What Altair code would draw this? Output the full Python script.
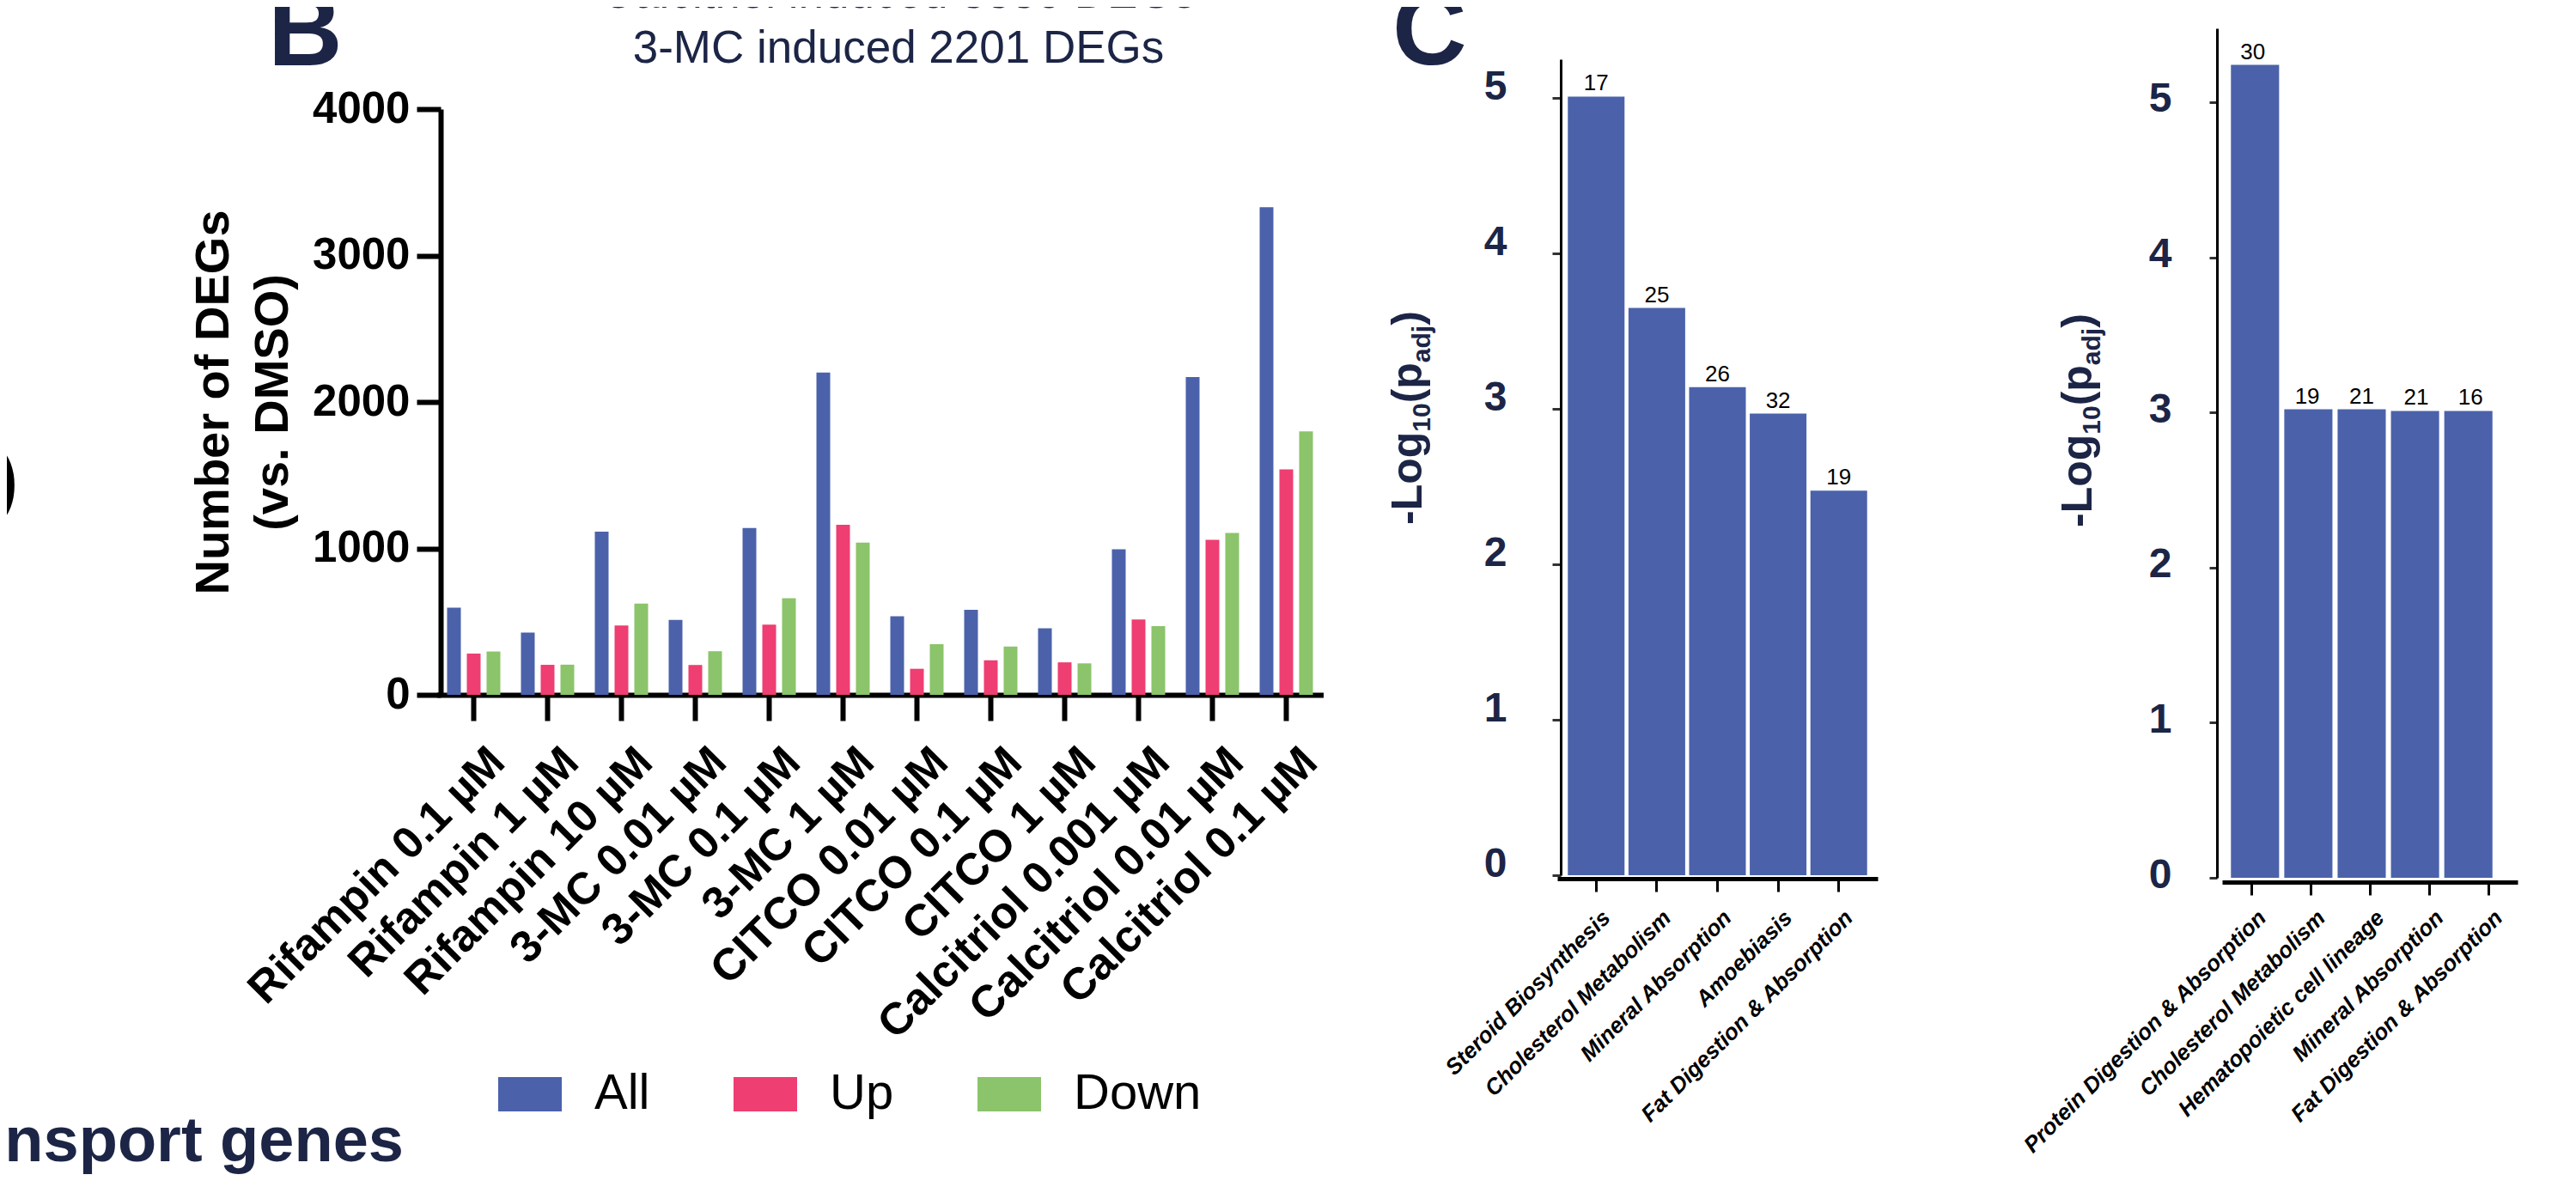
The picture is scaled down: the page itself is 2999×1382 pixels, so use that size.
import altair as alt
import pandas as pd

# ---------------- data ----------------
treatments = ["Rifampin 0.1 µM", "Rifampin 1 µM", "Rifampin 10 µM", "3-MC 0.01 µM",
              "3-MC 0.1 µM", "3-MC 1 µM", "CITCO 0.01 µM", "CITCO 0.1 µM", "CITCO 1 µM",
              "Calcitriol 0.001 µM", "Calcitriol 0.01 µM", "Calcitriol 0.1 µM"]
deg_all = [595, 425, 1115, 512, 1140, 2201, 536, 581, 455, 994, 2170, 3330]
deg_up = [282, 205, 474, 204, 480, 1162, 178, 236, 222, 514, 1058, 1540]
deg_down = [296, 206, 623, 298, 660, 1039, 346, 330, 215, 469, 1106, 1799]
series = ["All", "Up", "Down"]
series_colors = ["#4b62ab", "#ee3e72", "#8bc46a"]
b_ticks = [0, 1000, 2000, 3000, 4000]
b_ytitle = ["Number of DEGs", "(vs.  DMSO)"]
b_title = ["Calcitriol induced 3330 DEGs", "3-MC induced 2201 DEGs"]

terms_calcitriol = ["Steroid Biosynthesis", "Cholesterol Metabolism", "Mineral Absorption",
                    "Amoebiasis", "Fat Digestion & Absorption"]
logp_calcitriol = [5.01, 3.65, 3.14, 2.97, 2.475]
genes_calcitriol = [17, 25, 26, 32, 19]

terms_3mc = ["Protein Digestion & Absorption", "Cholesterol Metabolism",
             "Hematopoietic cell lineage", "Mineral Absorption", "Fat Digestion & Absorption"]
logp_3mc = [5.24, 3.02, 3.02, 3.01, 3.01]
genes_3mc = [30, 19, 21, 21, 16]
c_ticks = [0, 1, 2, 3, 4, 5]
c_titles = ["Calcitriol", "3-MC"]

# ---------------- style ----------------
W, H = 2983, 1366
NAVY = "#1c2546"
BLUE = "#4b62ab"
FONT = "Liberation Sans"

# ---------------- panel B ----------------
df_b = pd.DataFrame({
    "treatment": [t for t in treatments for _ in series],
    "series": series * len(treatments),
    "value": [v for trio in zip(deg_all, deg_up, deg_down) for v in trio],
})

bars_b = alt.Chart(df_b).mark_bar().encode(
    x=alt.X("treatment:N", sort=treatments, title=None,
            scale=alt.Scale(range=[500.5, 1532.5], paddingInner=0.279, paddingOuter=0.1395),
            axis=alt.Axis(orient="bottom", offset=-565, domainColor="black", domainWidth=6,
                          tickColor="black", tickWidth=6, tickSize=30, labelAngle=-45,
                          labelAlign="right", labelBaseline="top", labelFont=FONT,
                          labelFontSize=52, labelFontWeight="bold", labelColor="black",
                          labelPadding=22, labelOffset=10, labelLimit=0, labelOverlap=False,
                          grid=False)),
    xOffset=alt.XOffset("series:N", sort=series,
                        scale=alt.Scale(domain=series, paddingInner=0.304, paddingOuter=0)),
    y=alt.Y("value:Q",
            scale=alt.Scale(domain=[0, 4000], range=[801, 119], nice=False),
            axis=alt.Axis(orient="left", offset=-505, values=b_ticks, format="d",
                          domainColor="black", domainWidth=6, tickColor="black", tickWidth=6,
                          tickSize=28, labelFont=FONT, labelFontSize=51, labelFontWeight="bold",
                          labelColor="black", labelPadding=8, labelOverlap=False, grid=False,
                          title=b_ytitle, titleFont=FONT, titleFontSize=56,
                          titleFontWeight="bold", titleColor="black", titleAngle=270,
                          titleAlign="center", titleBaseline="alphabetic", titleX=-248,
                          titleY=460, titleLineHeight=69)),
    color=alt.Color("series:N", sort=series,
                    scale=alt.Scale(domain=series, range=series_colors),
                    legend=alt.Legend(orient="none", legendX=572, legendY=1229,
                                      direction="horizontal", title=None,
                                      symbolType="M-1,-0.54H1V0.54H-1Z", symbolSize=5476,
                                      symbolStrokeWidth=0, symbolOpacity=1,
                                      labelFont=FONT, labelFontSize=58, labelColor="black",
                                      labelOffset=38, columnPadding=97, padding=0)),
)


# ---------------- panel C helpers ----------------
def c_xaxis(offset, label_offset, label_padding):
    return alt.Axis(orient="bottom", offset=offset, domainColor="black", domainWidth=5,
                    tickColor="black", tickWidth=3, tickSize=15, labelAngle=-45,
                    labelAlign="right", labelBaseline="top", labelFont=FONT, labelFontSize=26,
                    labelFontWeight="bold", labelFontStyle="italic", labelColor="black",
                    labelPadding=label_padding, labelOffset=label_offset, labelLimit=0,
                    labelOverlap=False, grid=False)


def c_yaxis(offset, label_padding, label_offset, tick_size):
    return alt.Axis(orient="left", offset=offset, values=c_ticks, format="d",
                    domainColor="black", domainWidth=3, tickColor="#333333", tickWidth=3,
                    tickSize=tick_size, labelFont=FONT, labelFontSize=48,
                    labelFontWeight="bold", labelColor=NAVY, labelPadding=label_padding,
                    labelOffset=label_offset, labelOverlap=False, grid=False, title=None)


# ---------------- panel C1 (Calcitriol) ----------------
df_c1 = pd.DataFrame({"term": terms_calcitriol, "logp": logp_calcitriol,
                      "genes": genes_calcitriol})
x_c1 = alt.X("term:N", sort=terms_calcitriol, title=None,
             scale=alt.Scale(range=[1805, 2178], paddingInner=0.065, paddingOuter=0.174),
             axis=c_xaxis(-351, 3, 17))
y_c1 = alt.Y("logp:Q", scale=alt.Scale(domain=[0, 5.25], range=[1011, 61], nice=False),
             axis=c_yaxis(-1809, 53, -13, 10))
c1 = alt.layer(
    alt.Chart(df_c1).mark_bar(color=BLUE).encode(x=x_c1, y=y_c1),
    alt.Chart(df_c1).mark_text(dy=-7, baseline="alphabetic", font=FONT, fontSize=26,
                               color="black").encode(x=x_c1, y=y_c1, text="genes:Q"),
)

# ---------------- panel C2 (3-MC) ----------------
df_c2 = pd.DataFrame({"term": terms_3mc, "logp": logp_3mc, "genes": genes_3mc})
x_c2_bars = alt.X("term:N", sort=terms_3mc, title=None,
                  scale=alt.Scale(range=[2583, 2900], paddingInner=0.097, paddingOuter=0.101),
                  axis=None)
x_c2_axis = alt.X("term:N", sort=terms_3mc, title=None,
                  scale=alt.Scale(range=[2579, 2923], paddingInner=0, paddingOuter=0.1875),
                  axis=c_xaxis(-347, 3, 13))
y_c2 = alt.Y("logp:Q", scale=alt.Scale(domain=[0, 5.476], range=[1014, 25], nice=False),
             axis=c_yaxis(-2573, 44, -3, 9))
c2 = alt.layer(
    alt.Chart(df_c2).mark_bar(color=BLUE).encode(x=x_c2_bars, y=y_c2),
    alt.Chart(df_c2).mark_text(dy=-7, baseline="alphabetic", font=FONT, fontSize=26,
                               color="black").encode(x=x_c2_bars, y=y_c2, text="genes:Q"),
    alt.Chart(df_c2).mark_point(opacity=0).encode(x=x_c2_axis),
).resolve_scale(x="independent")


# ---------------- annotation texts ----------------
def label(txt, x, y, size, weight="normal", color=NAVY, align="left",
          baseline="alphabetic", angle=0, style="normal"):
    return alt.Chart(pd.DataFrame({"t": [txt]})).mark_text(
        align=align, baseline=baseline, font=FONT, fontSize=size, fontWeight=weight,
        fontStyle=style, color=color, angle=angle
    ).encode(x=alt.value(x), y=alt.value(y), text="t:N")


BOLD_W = {"-": 0.333, "L": 0.611, "o": 0.611, "g": 0.611, "1": 0.556, "0": 0.556,
          "(": 0.333, "p": 0.611, "a": 0.556, "d": 0.611, "j": 0.278, ")": 0.333}


def log_title(base_x, start_y):
    parts = [("-Log", 50, 0), ("10", 30, 10), ("(p", 50, 0), ("adj", 30, 10), (")", 50, 0)]
    layers = []
    y = start_y
    for txt, size, shift in parts:
        layers.append(label(txt, base_x + shift, y, size, weight="bold", angle=270))
        y -= sum(BOLD_W[c] for c in txt) * size
    return layers


annotations = [
    label("B", 304, 68, 120, weight="bold"),
    label("C", 1613, 67, 120, weight="bold"),
    label(b_title[0], 1038, 1, 53, align="center"),
    label(b_title[1], 1038, 65, 53, align="center"),
    label(c_titles[0], 2007, -1, 52, weight="bold", align="center"),
    label(c_titles[1], 2770, -1, 52, weight="bold", align="center"),
    label("nsport genes", 462, 1344, 74, weight="bold", align="right"),
    label(")", 15, 583, 100, color="black", align="right"),
] + log_title(1647, 603) + log_title(2427, 606)

chart = alt.layer(bars_b, c1, c2, *annotations).resolve_scale(
    x="independent", y="independent"
).properties(
    width=W, height=H, padding=0, autosize=alt.AutoSizeParams(type="none")
).configure_view(stroke="transparent")

chart.save("out.html", embed_options={"renderer": "svg", "actions": False})
